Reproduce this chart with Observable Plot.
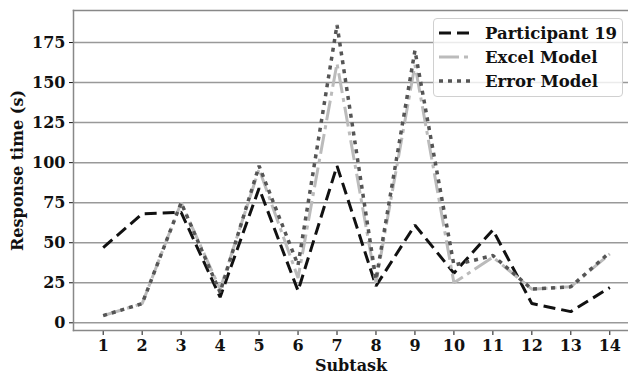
<!DOCTYPE html>
<html>
<head>
<meta charset="utf-8">
<script src="https://cdn.jsdelivr.net/npm/d3@7"></script>
<script src="https://cdn.jsdelivr.net/npm/@observablehq/plot@0.6"></script>
<style>
  body { margin: 0; background: #fff; }
  #wrap { position: relative; width: 628px; height: 376px; }
  #legend {
    position: absolute; left: 433px; top: 18px; width: 190px; height: 79px;
    border: 1px solid #d0d0d0; border-radius: 4px; background: rgba(255,255,255,0.8);
    font-family: "DejaVu Serif", serif; font-weight: bold; font-size: 16.5px; color: #111;
    box-sizing: border-box;
  }
  .row { position: absolute; left: 0; height: 24px; display: flex; align-items: center; }
  .row svg { margin-left: 5px; margin-right: 13px; }
</style>
</head>
<body>
<div id="wrap"></div>
<script>
const subtasks = [1, 2, 3, 4, 5, 6, 7, 8, 9, 10, 11, 12, 13, 14];
const participant19 = [47, 68, 69, 16, 84, 20, 98, 23, 61, 31, 58, 12, 7, 22];
const excelModel = [4.5, 12, 75, 21, 96, 28, 162, 25, 161, 25, 41, 21, 22.5, 43];
const errorModel = [4.5, 12, 75, 19, 98, 36, 186, 27, 170, 36, 42, 21, 22.5, 44];
const yTicks = [0, 25, 50, 75, 100, 125, 150, 175];
const seriesNames = ["Participant 19", "Excel Model", "Error Model"];

const seriesStyle = {
  "Participant 19": {stroke: "#111", dash: "12,6", width: 3},
  "Excel Model": {stroke: "#bbb", dash: "20,5,4,5", width: 3},
  "Error Model": {stroke: "#555", dash: "4,5", width: 3.5}
};
const seriesValues = [participant19, excelModel, errorModel];
const rows = [];
seriesNames.forEach((name, i) => subtasks.forEach((s, j) => rows.push({series: name, subtask: s, value: seriesValues[i][j]})));

const lineMarks = seriesNames.map(name => Plot.line(rows.filter(d => d.series === name), {
  x: "subtask", y: "value", stroke: seriesStyle[name].stroke,
  strokeWidth: seriesStyle[name].width, strokeDasharray: seriesStyle[name].dash,
  strokeLinejoin: "miter", strokeLinecap: "butt"
}));

const chart = Plot.plot({
  width: 628, height: 376,
  marginLeft: 73, marginRight: 0, marginTop: 10, marginBottom: 46,
  style: {fontFamily: "DejaVu Serif", fontSize: "16px", fontWeight: "bold", color: "#111", background: "#fff", overflow: "visible"},
  x: {domain: [0.238, 14.48], ticks: subtasks, tickFormat: d => String(d), tickSize: 5, tickPadding: 4,
      label: "Subtask", labelAnchor: "center", labelArrow: "none", labelOffset: 40},
  y: {domain: [-4.8, 195], ticks: yTicks, tickSize: 4, tickPadding: 4,
      label: "Response time (s)", labelAnchor: "center", labelArrow: "none", labelOffset: 62},
  marks: [
    Plot.ruleY(yTicks, {stroke: "#999", strokeWidth: 1.5}),
    Plot.frame({anchor: "top", stroke: "#888", strokeWidth: 1.5}),
    Plot.frame({anchor: "left", stroke: "#888", strokeWidth: 1.5}),
    Plot.frame({anchor: "bottom", stroke: "#888", strokeWidth: 1.5}),
    ...lineMarks
  ]
});
const wrap = document.getElementById("wrap");
wrap.appendChild(chart);

const legend = document.createElement("div");
legend.id = "legend";
seriesNames.forEach((name, i) => {
  const st = seriesStyle[name];
  const row = document.createElement("div");
  row.className = "row";
  row.style.top = (2 + i * 24) + "px";
  row.innerHTML = `<svg width="33" height="10"><line x1="0" x2="33" y1="5" y2="5" stroke="${st.stroke}" stroke-width="${st.width}" stroke-dasharray="${st.dash}"/></svg><span>${name}</span>`;
  legend.appendChild(row);
});
wrap.appendChild(legend);
</script>
</body>
</html>
